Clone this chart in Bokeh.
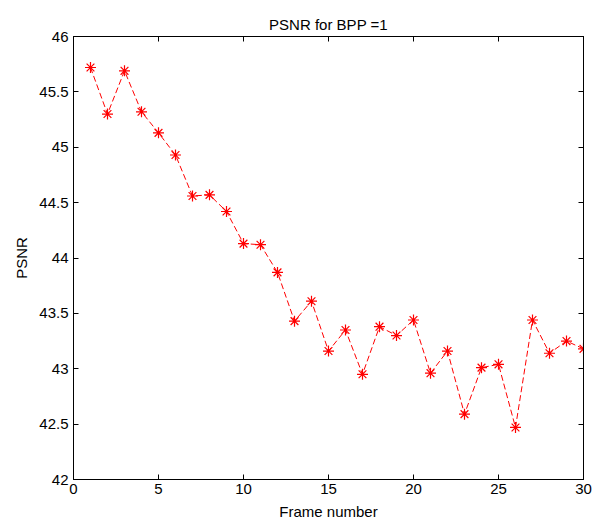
from bokeh.plotting import figure
from bokeh.embed import file_html
from bokeh.resources import INLINE
from bokeh.models import LinearAxis, FixedTicker, Range1d, ColumnDataSource

frames = list(range(1, 31))
psnr = [45.72, 45.30, 45.69, 45.32, 45.13, 44.93, 44.56, 44.57, 44.42, 44.13,
        44.12, 43.87, 43.43, 43.61, 43.16, 43.35, 42.95, 43.38, 43.30, 43.44,
        42.96, 43.16, 42.59, 43.01, 43.04, 42.47, 43.44, 43.14, 43.25, 43.18]
x_ticks = [0, 5, 10, 15, 20, 25, 30]
y_ticks = [42, 42.5, 43, 43.5, 44, 44.5, 45, 45.5, 46]
y_labels = ["42", "42.5", "43", "43.5", "44", "44.5", "45", "45.5", "46"]

FONT = "Liberation Sans"
FS = "15px"

p = figure(frame_width=510, frame_height=443, output_backend="svg", toolbar_location=None,
           x_range=Range1d(0, 30), y_range=Range1d(42, 46),
           min_border_left=73, min_border_top=36, min_border_right=13, min_border_bottom=45,
           title="PSNR for BPP =1")
p.title.align = "center"
p.title.text_font = FONT
p.title.text_font_size = FS
p.title.text_font_style = "normal"
p.title.text_color = "black"
p.title.offset = 0
p.title.standoff = 8

p.grid.visible = False
p.outline_line_color = "black"
p.outline_line_width = 1
p.background_fill_color = "white"
p.border_fill_color = "white"

src = ColumnDataSource(dict(x=frames, y=psnr))
p.line("x", "y", source=src, line_color="red", line_dash="6 3", line_width=1)
p.scatter("x", "y", source=src, marker="asterisk", size=11, line_color="red", line_width=1.2)

def style(ax):
    ax.major_tick_in = 5
    ax.major_tick_out = 0
    ax.minor_tick_in = 0
    ax.minor_tick_out = 0
    ax.axis_line_color = "black"
    ax.major_tick_line_color = "black"
    ax.major_label_text_font = FONT
    ax.major_label_text_font_size = FS
    ax.major_label_text_color = "black"
    ax.axis_label_text_font = FONT
    ax.axis_label_text_font_size = FS
    ax.axis_label_text_font_style = "normal"
    ax.axis_label_text_color = "black"

p.xaxis.ticker = FixedTicker(ticks=x_ticks)
p.yaxis.ticker = FixedTicker(ticks=y_ticks)
p.yaxis.major_label_overrides = {v: s for v, s in zip(y_ticks, y_labels)}
p.xaxis.axis_label = "Frame number"
p.yaxis.axis_label = "PSNR"
style(p.xaxis[0])
style(p.yaxis[0])
p.xaxis.major_label_standoff = 4
p.yaxis.major_label_standoff = 5
p.xaxis.axis_label_standoff = 6
p.yaxis.axis_label_standoff = 6

top = LinearAxis(ticker=FixedTicker(ticks=x_ticks))
right = LinearAxis(ticker=FixedTicker(ticks=y_ticks))
style(top)
style(right)
for ax in (top, right):
    ax.major_label_standoff = 0
    ax.major_label_text_alpha = 0
top.major_label_overrides = {v: "" for v in x_ticks}
right.major_label_overrides = {v: "" for v in y_ticks}
p.add_layout(top, "above")
p.add_layout(right, "right")

open("out.html", "w").write(file_html(p, INLINE))
